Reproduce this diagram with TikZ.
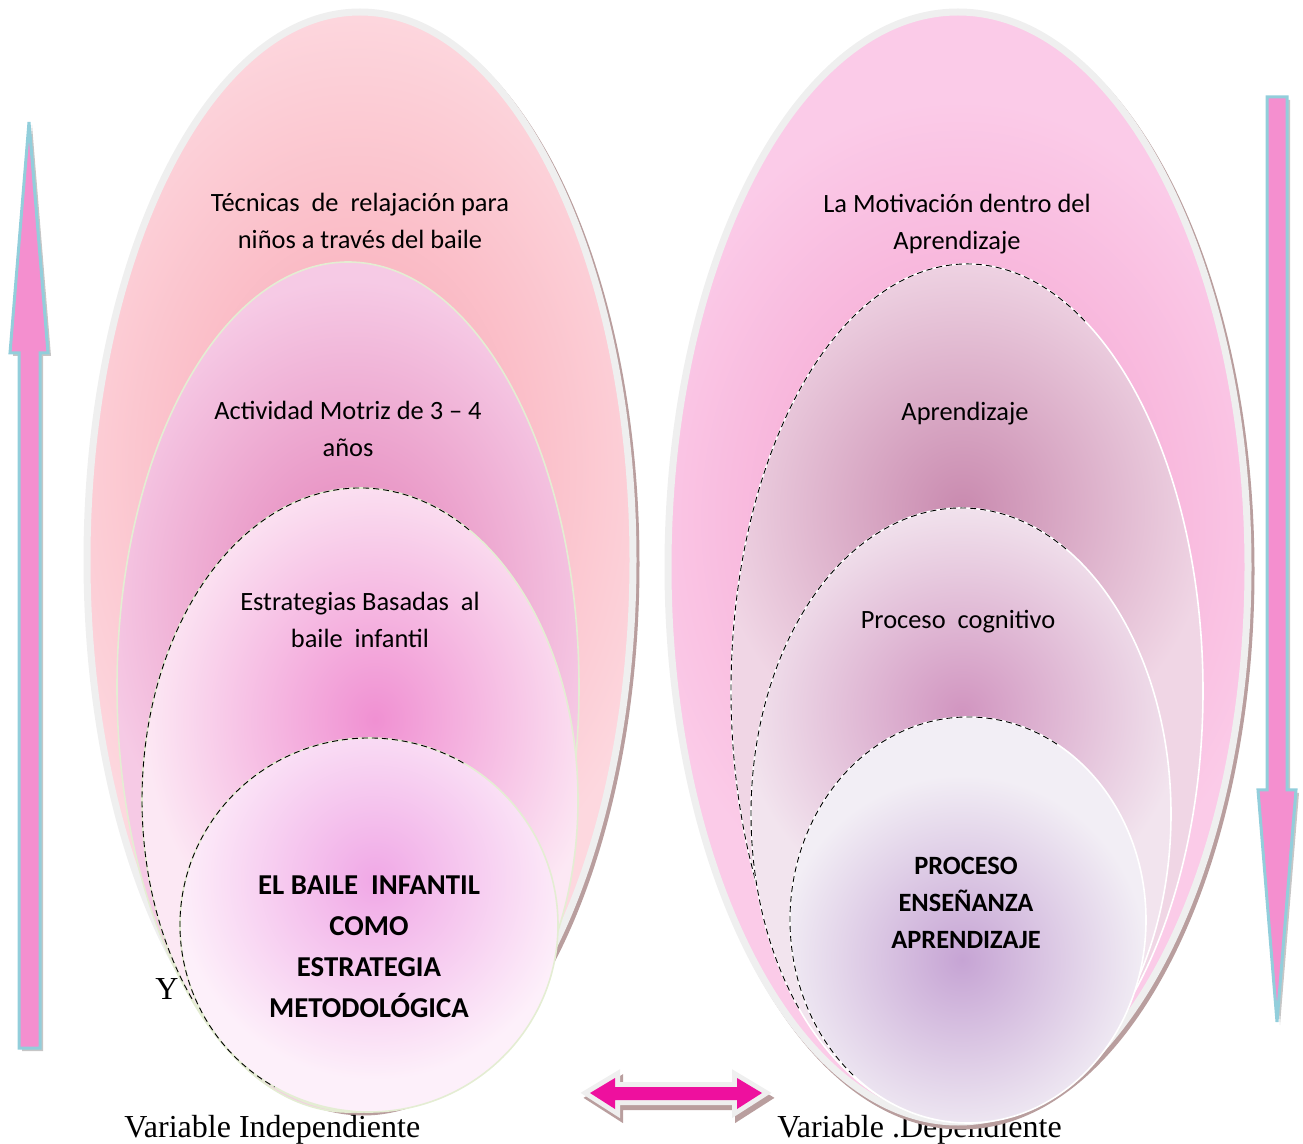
\documentclass[tikz,border=0pt]{standalone}
\usepackage{fontspec}
\setmainfont{Liberation Serif}
\newfontfamily\calibri{Carlito}
\definecolor{rimgray}{HTML}{EFEFEF}
\definecolor{shadowbrown}{HTML}{B99E9E}
\definecolor{rimcream}{HTML}{E4EDD3}
\definecolor{arrowpink}{HTML}{F48FCF}
\definecolor{arrowblue}{HTML}{92CEDB}
\definecolor{dblpink}{HTML}{EE109E}
\definecolor{lonea}{HTML}{FDD8DF}
\definecolor{loneb}{HTML}{F8A3B0}
\definecolor{ltwoa}{HTML}{F6CAE5}
\definecolor{ltwob}{HTML}{E27DB6}
\definecolor{lthreea}{HTML}{FCE8F4}
\definecolor{lthreeb}{HTML}{F090D2}
\definecolor{lfoura}{HTML}{FDF0FA}
\definecolor{lfourb}{HTML}{F0A8E6}
\definecolor{ronea}{HTML}{FBCBE8}
\definecolor{roneb}{HTML}{F49ACB}
\definecolor{rtwoa}{HTML}{F0D6E5}
\definecolor{rtwob}{HTML}{C98AAF}
\definecolor{rthreea}{HTML}{F2E4EE}
\definecolor{rthreeb}{HTML}{D195C0}
\definecolor{rfoura}{HTML}{F2EEF5}
\definecolor{rfourb}{HTML}{C6A4D4}
\begin{document}
\begin{tikzpicture}[x=0.5pt, y=-0.5pt,
    txt/.style={font=\calibri\fontsize{13.2}{18.5}\selectfont, align=center, inner sep=0pt},
    boldtxt/.style={txt, font=\calibri\bfseries\fontsize{13.2}{18.5}\selectfont},
    bigtxt/.style={txt, font=\calibri\bfseries\fontsize{14.4}{20.5}\selectfont},
    serif/.style={font=\fontsize{16}{19}\selectfont, inner sep=0pt},
    rim/.style={draw=rimgray, line width=3.5pt},
    thinrim/.style={draw=rimcream, line width=0.8pt},
    blackedge/.style={draw=black, densely dashed, line width=0.45pt},
    vertarrow/.style={fill=arrowpink, draw=arrowblue, line width=1.5pt, line join=miter}]
    \useasboundingbox (0,0) rectangle (1303,1144);

    % texts that sit behind the shapes
    \node[serif, anchor=base west] (yl) at (155,1000) {Y};
    \node[serif, anchor=base west] (vardep) at (777,1137) {Variable .Dependiente};

    % left group
    \draw[shadowbrown, line width=3.5pt, fill=shadowbrown] (363,564) ellipse (273 and 548);
    \fill[lonea] (360,560) ellipse (273 and 548);
    \begin{scope}
    \clip (360,560) ellipse (273 and 548);
    \shade[inner color=loneb, outer color=lonea] (355,470) ellipse (330 and 470);
    \end{scope}
    \draw[rim] (360,560) ellipse (273 and 548);

    \fill[ltwoa] (348,687) ellipse (231 and 425);
    \begin{scope}
    \clip (348,687) ellipse (231 and 425);
    \shade[inner color=ltwob, outer color=ltwoa] (350,600) ellipse (250 and 320);
    \end{scope}
    \draw[thinrim] (348,687) ellipse (231 and 425);

    \fill[lthreea] (360,800) ellipse (218 and 312);
    \begin{scope}
    \clip (360,800) ellipse (218 and 312);
    \shade[inner color=lthreeb, outer color=lthreea] (375,720) ellipse (230 and 260);
    \end{scope}
    \draw[thinrim] (360,800) ellipse (218 and 312);
    \draw[blackedge] ([shift={(300:218 and 312)}]360,800) arc[start angle=300, end angle=140, x radius=218, y radius=312];

    \fill[lfoura] (369,925) ellipse (189 and 187);
    \begin{scope}
    \clip (369,925) ellipse (189 and 187);
    \shade[inner color=lfourb, outer color=lfoura] (375,880) ellipse (200 and 200);
    \end{scope}
    \draw[thinrim] (369,925) ellipse (189 and 187);
    \draw[blackedge] ([shift={(300:189 and 187)}]369,925) arc[start angle=300, end angle=120, x radius=189, y radius=187];

    % right group
    \draw[shadowbrown, line width=3.5pt, fill=shadowbrown] (961,571) ellipse (290 and 555);
    \fill[ronea] (958,567) ellipse (290 and 555);
    \begin{scope}
    \clip (958,567) ellipse (290 and 555);
    \shade[inner color=roneb, outer color=ronea] (960,520) ellipse (330 and 420);
    \end{scope}
    \draw[rim] (958,567) ellipse (290 and 555);

    \fill[rtwoa] (967,691) ellipse (236 and 427);
    \begin{scope}
    \clip (967,691) ellipse (236 and 427);
    \shade[inner color=rtwob, outer color=rtwoa] (962,510) ellipse (250 and 260);
    \end{scope}
    \draw[white, line width=0.8pt] (967,691) ellipse (236 and 427);
    \draw[blackedge] ([shift={(300:236 and 427)}]967,691) arc[start angle=300, end angle=140, x radius=236, y radius=427];

    \fill[rthreea] (961,814) ellipse (210 and 306);
    \begin{scope}
    \clip (961,814) ellipse (210 and 306);
    \shade[inner color=rthreeb, outer color=rthreea] (962,712) ellipse (220 and 210);
    \end{scope}
    \draw[white, line width=0.8pt] (961,814) ellipse (210 and 306);
    \draw[blackedge] ([shift={(300:210 and 306)}]961,814) arc[start angle=300, end angle=140, x radius=210, y radius=306];

    \fill[rfoura] (968,920) ellipse (178 and 203);
    \begin{scope}
    \clip (968,920) ellipse (178 and 203);
    \shade[inner color=rfourb, outer color=rfoura] (962,960) ellipse (185 and 185);
    \end{scope}
    \draw[white, line width=0.8pt] (968,920) ellipse (178 and 203);
    \draw[blackedge] ([shift={(300:178 and 203)}]968,920) arc[start angle=300, end angle=130, x radius=178, y radius=203];

    % labels in the shapes
    \node[txt] (tecnicas) at (360,221) {Técnicas~ de~ relajación para\\niños a través del baile};
    \node[txt] (actividad) at (348,429) {Actividad Motriz de 3 – 4\\años};
    \node[txt] (estrategias) at (360,620) {Estrategias Basadas~ al\\baile~ infantil};
    \node[bigtxt] (baile) at (369,947) {EL BAILE~ INFANTIL\\COMO\\ESTRATEGIA\\METODOLÓGICA};
    \node[txt] (motivacion) at (957,224) {La Motivación dentro del\\Aprendizaje};
    \node[txt] (aprendizaje) at (965,414) {Aprendizaje};
    \node[txt] (cognitivo) at (958,622) {Proceso~ cognitivo};
    \node[boldtxt] (proceso) at (966,903) {PROCESO\\ENSEÑANZA\\APRENDIZAJE};

    % side arrows
    \fill[gray!45, shift={(3,3)}] (29,122) -- (48,353) -- (40,353) -- (40,1048) -- (19,1048) -- (19,353) -- (10,353) -- cycle;
    \draw[vertarrow] (29,122) -- (48,353) -- (40,353) -- (40,1048) -- (19,1048) -- (19,353) -- (10,353) -- cycle;
    \fill[gray!45, shift={(3,3)}] (1267,97) -- (1287,97) -- (1287,790) -- (1296,790) -- (1277,1022) -- (1258,790) -- (1267,790) -- cycle;
    \draw[vertarrow] (1267,97) -- (1287,97) -- (1287,790) -- (1296,790) -- (1277,1022) -- (1258,790) -- (1267,790) -- cycle;

    % double arrow
    \draw[shadowbrown, fill=shadowbrown, line width=5pt, shift={(3,5)}] (590,1093) -- (615,1078) -- (615,1087) -- (737,1087) -- (737,1078) -- (762,1093) -- (737,1109) -- (737,1100) -- (615,1100) -- (615,1109) -- cycle;
    \draw[rimgray, fill=rimgray, line width=5pt] (590,1093) -- (615,1078) -- (615,1087) -- (737,1087) -- (737,1078) -- (762,1093) -- (737,1109) -- (737,1100) -- (615,1100) -- (615,1109) -- cycle;
    \fill[dblpink] (590,1093) -- (615,1078) -- (615,1087) -- (737,1087) -- (737,1078) -- (762,1093) -- (737,1109) -- (737,1100) -- (615,1100) -- (615,1109) -- cycle;

    \node[serif, anchor=base west] (varind) at (124,1137) {Variable Independiente};
\end{tikzpicture}
\end{document}
